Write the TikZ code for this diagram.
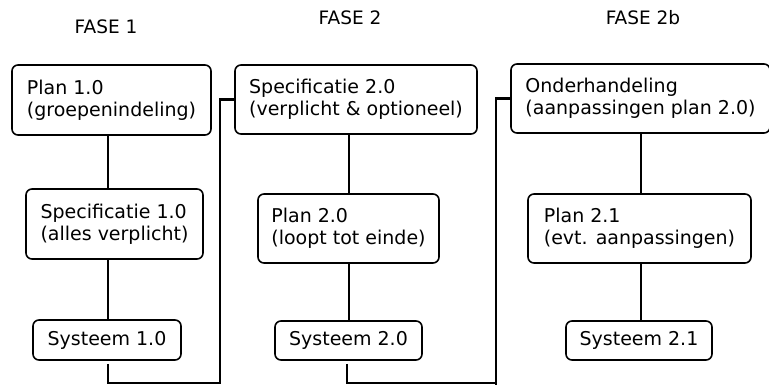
\documentclass[tikz,border=0pt]{standalone}
\usepackage{fontspec}
\setmainfont{DejaVu Sans}
\begin{document}
\begin{tikzpicture}[x=1pt,y=-1pt,
  box/.style={draw, line width=1.6pt, rounded corners=6pt, align=left,
    inner sep=0pt, font=\fontsize{19}{22}\selectfont},
  link/.style={line width=2.2pt},
  phase/.style={font=\fontsize{18.5}{21}\selectfont}]
\useasboundingbox (0,0) rectangle (769,385);

% phase headings
\node[phase] (f1) at (106,27) {FASE 1};
\node[phase] (f2) at (350,18) {FASE 2};
\node[phase] (f3) at (643,18) {FASE 2b};

% column 1
\node[box, minimum width=199pt, minimum height=70pt] (p1) at (111.5,100)
  {Plan 1.0\\(groepenindeling)};
\node[box, minimum width=177pt, minimum height=70pt] (s1) at (114.5,224)
  {Specificatie 1.0\\(alles verplicht)};
\node[box, minimum width=148pt, minimum height=40pt] (y1) at (107,340)
  {Systeem 1.0};

% column 2
\node[box, minimum width=242pt, minimum height=69pt] (s2) at (356,99.5)
  {Specificatie 2.0\\(verplicht \& optioneel)};
\node[box, minimum width=181pt, minimum height=69pt] (p2) at (348.5,228.5)
  {Plan 2.0\\(loopt tot einde)};
\node[box, minimum width=147pt, minimum height=39pt] (y2) at (348.5,340.5)
  {Systeem 2.0};

% column 3
\node[box, minimum width=259pt, minimum height=69pt] (o3) at (640.5,98.5)
  {Onderhandeling\\(aanpassingen plan 2.0)};
\node[box, minimum width=223pt, minimum height=69pt] (p3) at (639.5,228.5)
  {Plan 2.1\\(evt. aanpassingen)};
\node[box, minimum width=146pt, minimum height=39pt] (y3) at (639,340.5)
  {Systeem 2.1};

% x positions of the vertical links
\coordinate (c1) at (108,0);
\coordinate (c2) at (349,0);
\coordinate (c2b) at (347,0);
\coordinate (c3) at (641,0);

% links inside each column
\draw[link] (p1.south -| c1) -- (s1.north -| c1);
\draw[link] (s1.south -| c1) -- (y1.north -| c1);
\draw[link] (s2.south -| c2) -- (p2.north -| c2);
\draw[link] (p2.south -| c2) -- (y2.north -| c2);
\draw[link] (o3.south -| c3) -- (p3.north -| c3);
\draw[link] (p3.south -| c3) -- (y3.north -| c3);

% feedback from each system to the next phase
\coordinate (b1) at (108,383);
\coordinate (r1) at (220,383);
\coordinate (b2) at (347,383);
\coordinate (r2) at (496,385);
\draw[link] ([yshift=-3pt]y1.south -| c1) -- (b1) -- (r1) |- (s2.west);
\draw[link] ([yshift=-3pt]y2.south -| c2b) -- (b2) -| (r2) |- (o3.west);
\end{tikzpicture}
\end{document}
